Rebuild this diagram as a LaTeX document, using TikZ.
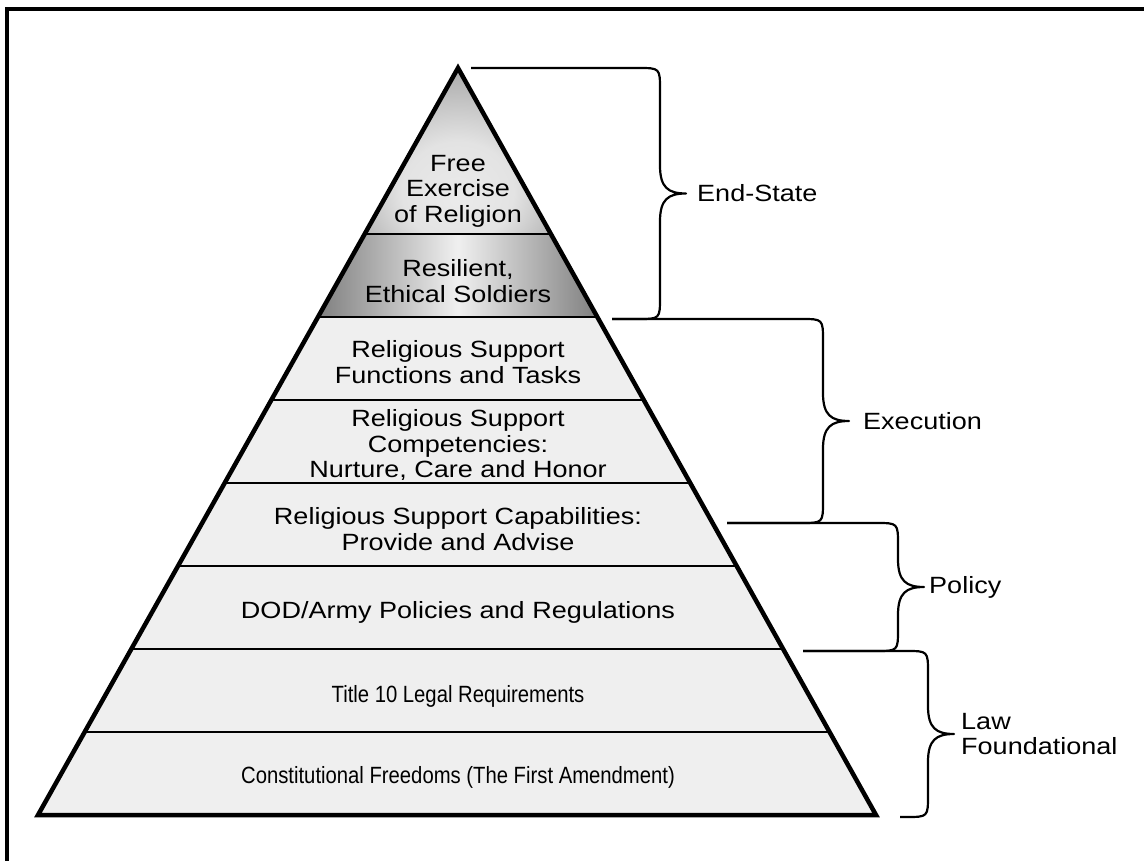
\documentclass[tikz,border=0pt]{standalone}
\usepackage{fontspec}
\usepackage{graphicx}
\setmainfont[FakeStretch=1.15]{Liberation Sans}
\usetikzlibrary{calc,positioning}
\definecolor{tiergray}{HTML}{EFEFEF}
\pgfdeclareradialshading{apexglow}{\pgfpoint{0bp}{-15bp}}{color(0bp)=(black!8); color(15bp)=(black!11); color(35bp)=(black!35); color(55bp)=(black!60); color(80bp)=(black!62)}
\newcommand\narrowtext[1]{\scalebox{0.75}[1]{#1}}
\tikzset{
	tier/.style={align=center,inner sep=0pt,font=\fontsize{23.5}{25.5}\selectfont},
	bracelabel/.style={align=left,inner sep=0pt,font=\fontsize{23.5}{25}\selectfont},
	bracket/.style={line width=2.2pt,line join=round},
}
\newcommand\sidebrace[6]{%
	\draw[bracket] (#1,#2) -- ({#5-22},#2) .. controls (#5,#2) .. (#5,{#2+22})
	-- (#5,{(#2+#4)/2-28}) .. controls (#5,{(#2+#4)/2-6}) and ({#5+8},{(#2+#4)/2}) .. ({#5+26},{(#2+#4)/2}) coordinate (#6)
	.. controls ({#5+8},{(#2+#4)/2}) and (#5,{(#2+#4)/2+6}) .. (#5,{(#2+#4)/2+28})
	-- (#5,{#4-22}) .. controls (#5,#4) .. ({#5-22},#4) -- (#3,#4);}
\begin{document}
\begin{tikzpicture}[x=1pt,y=-1pt]
	\useasboundingbox (0,0) rectangle (1144,861);
	\draw[line width=4pt] (7,880) -- (7,9) -- (1160,9);
	\coordinate (apex) at (458,68);
	\coordinate (bl) at (38,815);
	\coordinate (br) at (876,815);
	\fill[tiergray] (apex) -- (bl) -- (br) -- cycle;
	\shade[shading=apexglow] (apex) -- ($(apex)!2/9!(bl)$) -- ($(apex)!2/9!(br)$) -- cycle;
	\shade[left color=black!50,right color=black!50,middle color=black!6] ($(apex)!2/9!(bl)$) -- ($(apex)!3/9!(bl)$) -- ($(apex)!3/9!(br)$) -- ($(apex)!2/9!(br)$) -- cycle;
	\foreach \k in {2,...,8} {\draw[line width=2.2pt] ($(apex)!\k/9!(bl)$) -- ($(apex)!\k/9!(br)$);}
	\draw[line width=4.5pt] (apex) -- (bl) -- (br) -- cycle;
	\node[tier] (freeex) at (458,191) {Free\\Exercise\\of Religion};
	\node[tier] (resilient) at (458,281) {Resilient,\\Ethical Soldiers};
	\node[tier] (functions) at (458,362) {Religious Support\\Functions and Tasks};
	\node[tier] (competencies) at (458,445) {Religious Support\\Competencies:\\Nurture, Care and Honor};
	\node[tier] (capabilities) at (458,529) {Religious Support Capabilities:\\Provide and Advise};
	\node[tier] (policies) at (458,612) {DOD/Army Policies and Regulations};
	\node[tier] (title) at (458,696) {\narrowtext{Title 10 Legal Requirements}};
	\node[tier] (freedoms) at (458,777) {\narrowtext{Constitutional Freedoms (The First Amendment)}};
	\sidebrace{471}{68}{612}{319}{660}{estip}
	\sidebrace{612}{319}{727}{523}{823}{extip}
	\sidebrace{727}{523}{803}{651}{898}{potip}
	\sidebrace{803}{651}{900}{817}{928}{latip}
	\node[bracelabel,right=11pt of estip] (endstate) {End-State};
	\node[bracelabel,right=14pt of extip] (execution) {Execution};
	\node[bracelabel,right=5pt of potip] (policy) {Policy};
	\node[bracelabel,right=7pt of latip] (lawfound) {Law\\Foundational};
\end{tikzpicture}
\end{document}
